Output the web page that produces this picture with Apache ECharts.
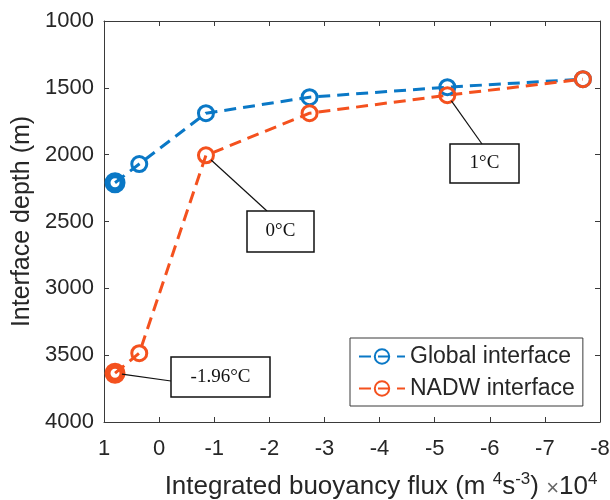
<!DOCTYPE html>
<html>
<head>
<meta charset="utf-8">
<script src="https://cdn.jsdelivr.net/npm/echarts@6/dist/echarts.min.js"></script>
<style>html,body{margin:0;padding:0;background:#fff}#c{width:610px;height:500px}</style>
</head>
<body>
<div id="c"></div>
<script>
// Data
const fluxGlobal  = [0.8, 0.36, -0.85, -2.73, -5.23, -7.69];
const depthGlobal = [2210, 2070, 1690, 1570, 1495, 1435];
const fluxNADW    = [0.8, 0.36, -0.85, -2.73, -5.23, -7.69];
const depthNADW   = [3635, 3485, 2005, 1690, 1555, 1435];
const seriesNames = ['Global interface', 'NADW interface'];
const annotations = [
  {label: '-1.96°C', series: 1, index: 0},
  {label: '0°C', series: 1, index: 2},
  {label: '1°C', series: 1, index: 4}
];

const BLUE = '#0A78C6';
const ORANGE = '#F4511E';
const AXIS = '#3a3a3a';
const TXT = '#262626';
const FONT = 'Liberation Sans';

function pts(xs, ys) { return xs.map((x, i) => [x, ys[i]]); }
function mkData(xs, ys, col) {
  return pts(xs, ys).map((p, i) => i === 0
    ? {value: p, symbolSize: 15, itemStyle: {borderWidth: 6, borderColor: col, color: 'rgba(255,255,255,0)'}}
    : {value: p});
}

const chart = echarts.init(document.getElementById('c'), null, {renderer: 'canvas'});
const tickLabel = {color: TXT, fontFamily: FONT, fontSize: 22};
const xBase = {type: 'value', min: -8, max: 1, interval: 1, inverse: true,
  axisLine: {show: true, onZero: false, lineStyle: {color: AXIS, width: 1}},
  axisTick: {show: true, inside: true, length: 5, lineStyle: {color: AXIS}},
  splitLine: {show: false}};
const yBase = {type: 'value', min: 1000, max: 4000, interval: 500, inverse: true,
  axisLine: {show: true, onZero: false, lineStyle: {color: AXIS, width: 1}},
  axisTick: {show: true, inside: true, length: 5, lineStyle: {color: AXIS}},
  splitLine: {show: false}};

function lineSeries(name, xs, ys, col) {
  return {
    name: name, type: 'line', xAxisIndex: 0, yAxisIndex: 0,
    data: mkData(xs, ys, col),
    symbol: 'circle', symbolSize: 15,
    lineStyle: {color: col, width: 3, type: [12, 7]},
    itemStyle: {color: 'rgba(255,255,255,0)', borderColor: col, borderWidth: 3},
    emphasis: {disabled: true}, animation: false
  };
}

chart.setOption({
  animation: false,
  grid: {left: 104, right: 10, top: 21, bottom: 78, containLabel: false, outerBoundsMode: 'none'},
  xAxis: [
    Object.assign({}, xBase, {position: 'bottom',
      axisLabel: Object.assign({}, tickLabel, {margin: 16}),
      name: '{t|Integrated buoyancy flux (m }{sup|4}{t|s}{sup|-3}{t|) }{x|×}{t|10}{sup|4}',
      nameLocation: 'middle', nameGap: 48,
      nameTextStyle: {color: TXT, fontFamily: FONT, fontSize: 26, padding: [0, 0, 0, 58],
        rich: {t: {fontSize: 26, color: TXT, fontFamily: FONT, verticalAlign: 'bottom', lineHeight: 30},
               sup: {fontSize: 17, color: TXT, fontFamily: FONT, verticalAlign: 'bottom', lineHeight: 17, padding: [0, 0, 12, 0]},
               x: {fontSize: 22, color: '#666', fontFamily: FONT, verticalAlign: 'bottom', lineHeight: 30}}}}),
    Object.assign({}, xBase, {position: 'top', axisLabel: {show: false}})
  ],
  yAxis: [
    Object.assign({}, yBase, {position: 'left',
      axisLabel: Object.assign({}, tickLabel, {margin: 10, formatter: v => String(v)}),
      name: 'Interface depth (m)', nameLocation: 'middle', nameGap: 64,
      nameTextStyle: {color: TXT, fontFamily: FONT, fontSize: 25}}),
    Object.assign({}, yBase, {position: 'right', axisLabel: {show: false}})
  ],
  legend: {
    data: seriesNames,
    left: 350, top: 338, orient: 'vertical',
    padding: [7, 8, 6, 8], itemGap: 9, itemWidth: 46, itemHeight: 18,
    borderColor: AXIS, borderWidth: 1, backgroundColor: '#fff',
    textStyle: {color: TXT, fontFamily: FONT, fontSize: 23},
    selectedMode: false
  },
  series: [
    lineSeries(seriesNames[0], fluxGlobal, depthGlobal, BLUE),
    lineSeries(seriesNames[1], fluxNADW, depthNADW, ORANGE)
  ]
});

// Annotation boxes (layout positions in pixels); the leader lines start at the data points
const boxes = [
  {x: 171, y: 357, w: 99, h: 40, ex: 171, ey: 381},
  {x: 247, y: 211, w: 67, h: 41, ex: 267, ey: 211},
  {x: 450, y: 144, w: 69, h: 39, ex: 482, ey: 144}
];
const allX = [fluxGlobal, fluxNADW], allY = [depthGlobal, depthNADW];
const graphics = [];
annotations.forEach((a, k) => {
  const b = boxes[k];
  const p = chart.convertToPixel({xAxisIndex: 0, yAxisIndex: 0}, [allX[a.series][a.index], allY[a.series][a.index]]);
  const dx = b.ex - p[0], dy = b.ey - p[1], d = Math.sqrt(dx * dx + dy * dy);
  const r = 7;
  graphics.push({type: 'line', z: 100, shape: {x1: p[0] + dx / d * r, y1: p[1] + dy / d * r, x2: b.ex, y2: b.ey},
    style: {stroke: '#111', lineWidth: 1.2}});
  graphics.push({type: 'rect', z: 101, shape: {x: b.x, y: b.y, width: b.w, height: b.h},
    style: {fill: '#fff', stroke: '#111', lineWidth: 1.5}});
  graphics.push({type: 'text', z: 102, x: b.x + b.w / 2, y: b.y + b.h / 2,
    style: {text: a.label, fill: '#111', font: '19px "Liberation Serif", "Times New Roman", serif',
      align: 'center', verticalAlign: 'middle'}});
});
chart.setOption({graphic: graphics});
</script>
</body>
</html>
